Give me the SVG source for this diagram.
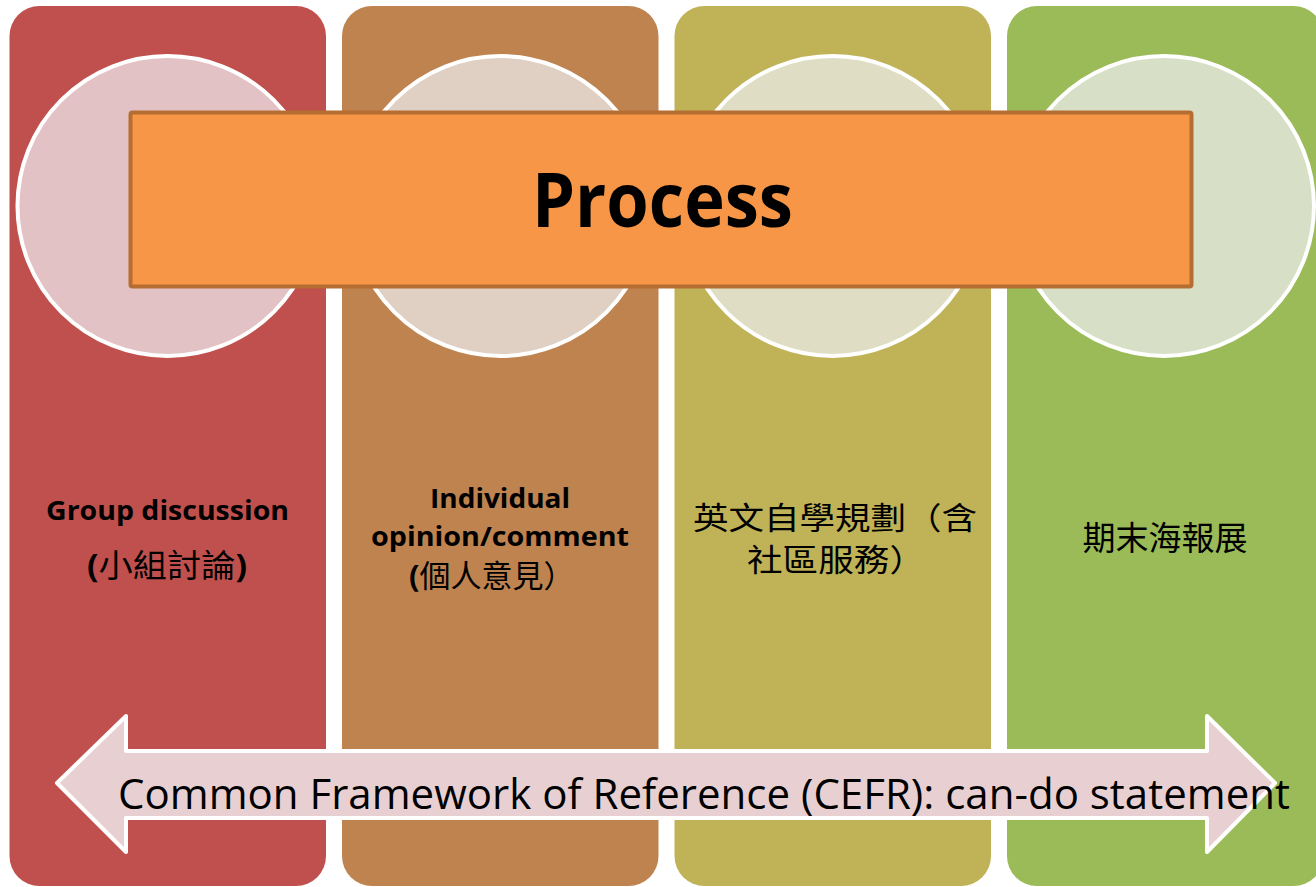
<svg xmlns="http://www.w3.org/2000/svg" width="1316" height="887" viewBox="0 0 1316 887">
  <style>
    .col { stroke: none; }
    .disc { stroke: #FFFFFF; stroke-width: 4; }
    .lbl { font-family: "Open Sans", "Noto Sans CJK TC", sans-serif; fill: #000000; }
    .mid { text-anchor: middle; }
    .st { text-anchor: start; }
    .b { font-weight: bold; }
    .cjk { font-family: "Noto Sans CJK TC", sans-serif; fill: #000000; }
  </style>
  <rect width="1316" height="887" fill="#FFFFFF"/>
  <g id="col1">
    <rect class="col" x="9.5" y="6" width="316.5" height="880" rx="30" fill="#C0504D"/>
    <circle class="disc" cx="167.5" cy="206" r="150" fill="#E2C2C4"/>
    <text class="lbl b mid" x="167.5" y="520" font-size="26" textLength="243" lengthAdjust="spacingAndGlyphs">Group discussion</text>
    <text class="lbl b st" x="87" y="577" font-size="32" textLength="160" lengthAdjust="spacingAndGlyphs"><tspan>(</tspan><tspan class="cjk" font-weight="normal">小組討論</tspan><tspan>)</tspan></text>
  </g>
  <g id="col2">
    <rect class="col" x="342" y="6" width="316.5" height="880" rx="30" fill="#BF8350"/>
    <circle class="disc" cx="500.5" cy="206" r="150" fill="#E0D0C3"/>
    <text class="lbl b mid" x="500" y="508" font-size="26" textLength="140" lengthAdjust="spacingAndGlyphs">Individual</text>
    <text class="lbl b mid" x="500" y="546" font-size="26" textLength="258" lengthAdjust="spacingAndGlyphs">opinion/comment</text>
    <text class="lbl b st" x="409" y="587" font-size="31"><tspan>(</tspan><tspan class="cjk" font-weight="normal">個人意見）</tspan></text>
  </g>
  <g id="col3">
    <rect class="col" x="674.5" y="6" width="316.5" height="880" rx="30" fill="#BFB257"/>
    <circle class="disc" cx="832.5" cy="206" r="150" fill="#DFDEC5"/>
    <text class="cjk st" x="693" y="529" font-size="31" textLength="284" lengthAdjust="spacingAndGlyphs">英文自學規劃（含</text>
    <text class="cjk st" x="747" y="571" font-size="31" textLength="178" lengthAdjust="spacingAndGlyphs">社區服務）</text>
  </g>
  <g id="col4">
    <rect class="col" x="1007" y="6" width="316.5" height="880" rx="30" fill="#9BBB59"/>
    <circle class="disc" cx="1164" cy="206" r="150" fill="#D7E0C6"/>
    <text class="cjk mid" x="1165" y="550" font-size="33">期末海報展</text>
  </g>
  <g id="process">
    <rect x="130.5" y="112.5" width="1061" height="174" rx="2" fill="#F79646" stroke="#B66D31" stroke-width="4"/>
    <text class="lbl b mid" x="662.5" y="227" font-size="76" textLength="261" lengthAdjust="spacingAndGlyphs">Process</text>
  </g>
  <g id="connectors">
    <g id="cefr-arrow">
      <path d="M57,783 L126,716 L126,751 L1207,751 L1207,716 L1275,783 L1207,852 L1207,818 L126,818 L126,852 Z" fill="#E8D0D2" stroke="#FFFFFF" stroke-width="4" stroke-linejoin="round"/>
      <text class="lbl st" x="118" y="809" font-size="42" textLength="1172" lengthAdjust="spacingAndGlyphs">Common Framework of Reference (CEFR): can-do statement</text>
    </g>
  </g>
</svg>
